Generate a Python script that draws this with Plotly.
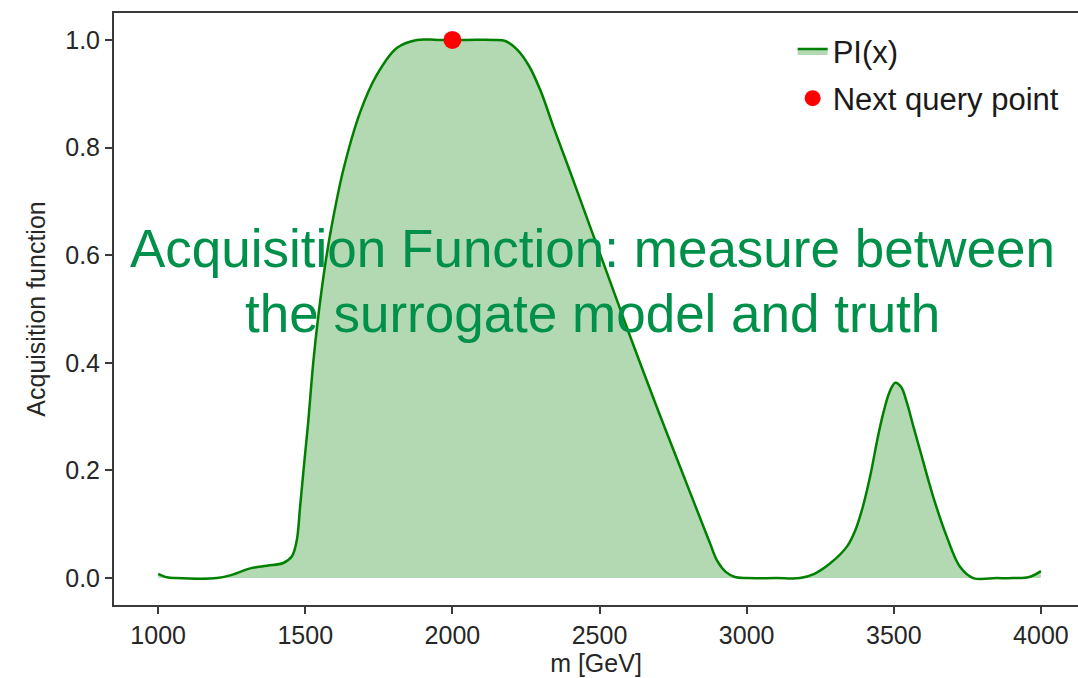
import plotly.graph_objects as go

# PI(x) curve
m_gev = [1000, 1030, 1060, 1200, 1250, 1313, 1370, 1425, 1454, 1471, 1482, 1494,
         1510, 1527, 1545, 1567, 1590, 1630, 1686, 1743, 1811, 1879, 1950, 2050,
         2140, 2180, 2220, 2260, 2300, 2343, 2400, 2450, 2500, 2550, 2600, 2650,
         2700, 2750, 2800, 2850, 2876, 2900, 2930, 2960, 3000, 3100, 3181, 3230,
         3283, 3340, 3370, 3396, 3420, 3445, 3464, 3485, 3505, 3525, 3545, 3565,
         3589, 3634, 3680, 3725, 3770, 3850, 3906, 3960, 4000]
pi_vals = [0.008, 0.0015, 0.0, 0.0, 0.006, 0.018, 0.023, 0.028, 0.04, 0.07, 0.13, 0.2,
           0.29, 0.4, 0.49, 0.58, 0.655, 0.76, 0.865, 0.935, 0.985, 1.0, 1.0, 1.0,
           1.0, 0.998, 0.982, 0.952, 0.905, 0.839, 0.755, 0.68, 0.605, 0.53, 0.455, 0.382,
           0.31, 0.24, 0.17, 0.1, 0.064, 0.032, 0.011, 0.002, 0.0, 0.0, 0.0, 0.008,
           0.027, 0.058, 0.09, 0.135, 0.19, 0.26, 0.306, 0.345, 0.363, 0.355, 0.325, 0.285,
           0.238, 0.151, 0.077, 0.021, 0.0, 0.0, 0.0, 0.002, 0.013]

next_m = [2000]
next_pi = [1.0]

x_ticks = [1000, 1500, 2000, 2500, 3000, 3500, 4000]
y_ticks = [0.0, 0.2, 0.4, 0.6, 0.8, 1.0]
y_tick_text = ["0.0", "0.2", "0.4", "0.6", "0.8", "1.0"]

fig = go.Figure()
fig.add_trace(go.Scatter(
    x=m_gev, y=pi_vals, mode="lines", name="PI(x)",
    line=dict(color="green", width=2.5, shape="spline", smoothing=1.0),
    fill="tozeroy", fillcolor="rgba(0,128,0,0.3)", legendgroup="a",
))
fig.add_trace(go.Scatter(
    x=next_m, y=next_pi, mode="markers", name="Next query point",
    marker=dict(color="red", size=18), legendgroup="b",
))

axis_common = dict(
    showline=True, linecolor="#3a3a3a", linewidth=2,
    ticks="outside", ticklen=7, tickwidth=2, tickcolor="#3a3a3a",
    showgrid=False, zeroline=False,
    tickfont=dict(family="Liberation Sans", size=25, color="#262626"),
)

fig.update_layout(
    width=1078, height=678,
    margin=dict(l=114, r=0, t=13, b=73),
    paper_bgcolor="white", plot_bgcolor="white",
    font=dict(family="Liberation Sans", color="#262626"),
    xaxis=dict(range=[850, 4126], tickvals=x_ticks, mirror=True,
               title=dict(text="m [GeV]", font=dict(size=25), standoff=6),
               **axis_common),
    yaxis=dict(range=[-0.05, 1.05], tickvals=y_ticks, ticktext=y_tick_text,
               title=dict(text="Acquisition function", font=dict(size=25), standoff=12),
               **axis_common),
    legend=dict(x=0.704, y=0.981, xanchor="left", yanchor="top",
                font=dict(size=31, color="#1a1a1a"), bgcolor="rgba(0,0,0,0)",
                tracegroupgap=4),
    showlegend=True,
)

ann_font = dict(family="Liberation Sans", size=53, color="#00904A")
fig.add_annotation(
    xref="paper", yref="paper", x=0.496, y=0.603, yanchor="middle",
    text="Acquisition Function: measure between",
    showarrow=False, font=ann_font,
)
fig.add_annotation(
    xref="paper", yref="paper", x=0.496, y=0.493, yanchor="middle",
    text="the surrogate model and truth",
    showarrow=False, font=ann_font,
)

fig.write_html("out.html")
